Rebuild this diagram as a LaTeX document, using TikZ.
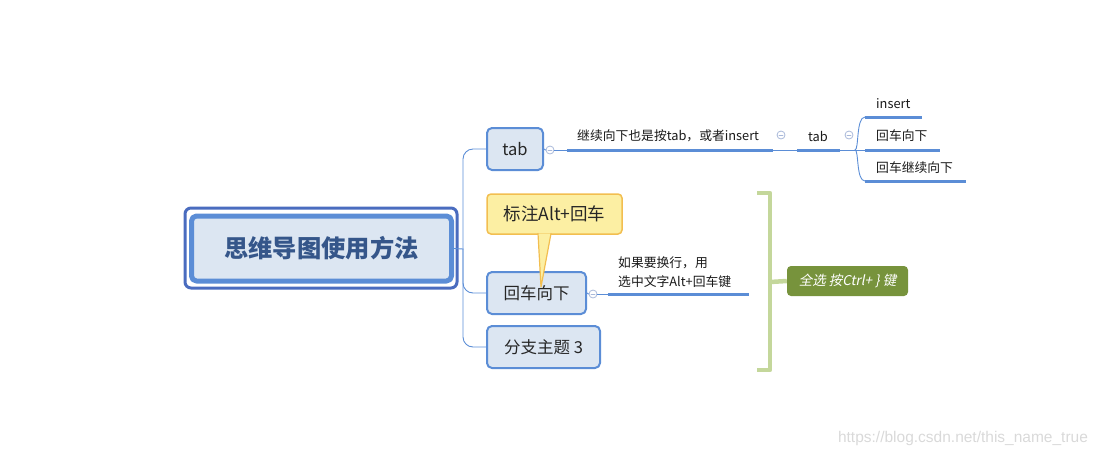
\documentclass[tikz,border=0pt]{standalone}
\usepackage{fontspec}
\setmainfont{Noto Sans CJK SC}
\newfontfamily\slantfont[FakeSlant=0.2]{Noto Sans CJK SC}
\newfontfamily\markfont{Liberation Sans}
\definecolor{topicfill}{HTML}{DCE6F2}
\definecolor{topicline}{HTML}{5B8DD6}
\definecolor{rootline}{HTML}{4A6CBF}
\definecolor{roottext}{HTML}{35568A}
\definecolor{notefill}{HTML}{FCEFA3}
\definecolor{noteline}{HTML}{F2BE50}
\definecolor{bracegreen}{HTML}{C4D79B}
\definecolor{sumfill}{HTML}{77933C}
\definecolor{foldline}{HTML}{A9B9DA}
\begin{document}
\begin{tikzpicture}[x=1pt, y=-1pt, line join=round, line cap=round,
	topic/.style={draw=topicline, line width=2, fill=topicfill, rounded corners=5, inner sep=0, text=black!85, font=\fontsize{16.5}{18}\selectfont, minimum height=42},
	link/.style={topicline, line width=0.9},
	uline/.style={topicline, line width=3, line cap=butt},
	subtext/.style={anchor=west, inner sep=0, text=black!90, font=\fontsize{12.8}{18}\selectfont},
	fold/.style={circle, draw=foldline, line width=0.8, fill=white, minimum size=8, inner sep=0,
		path picture={\draw[foldline, line width=0.8] ([xshift=-2]path picture bounding box.center) -- ([xshift=2]path picture bounding box.center);}}]
	\useasboundingbox (0,0) rectangle (1100,456);
	% central topic
	\draw[rootline, line width=3, rounded corners=6] (185,208) rectangle (457,288);
	\node[draw=topicline, line width=5, fill=topicfill, rounded corners=5, minimum width=260, minimum height=65, inner sep=0,
		text=roottext, font=\fontsize{24.3}{26}\selectfont\bfseries] (root) at (321.5,248.5) {思维导图使用方法};
	\node[topic, minimum width=56] (tab) at (515,149) {tab};
	\node[topic, minimum width=99] (enter) at (536.5,293) {回车向下};
	\node[topic, minimum width=113] (branch3) at (543.5,347) {分支主题 3};
	\coordinate (hub) at (463,249);
	\draw[link] (root.east) -- (hub);
	\draw[link, rounded corners=10] (hub) |- (tab.west);
	\draw[link, rounded corners=10] (hub) |- (enter.west);
	\draw[link, rounded corners=10] (hub) |- (branch3.west);
	% tab branch
	\coordinate (contL) at (567,150);
	\coordinate (contR) at (773,150);
	\coordinate (tabL) at (797,150);
	\coordinate (tabR) at (840,150);
	\coordinate (split) at (855,150);
	\node[fold] (tabfold) at (550,150) {};
	\draw[link] (tab.east) -- (tabfold.west);
	\draw[link] (tabfold.east) -- (contL);
	\draw[uline] (contL) -- (contR);
	\node[subtext] (cont) at (577,136) {继续向下也是按tab，或者insert};
	\node[fold] (contfold) at (781,135) {};
	\draw[link] (contR) -- (tabL);
	\draw[uline] (tabL) -- (tabR);
	\node[subtext, anchor=center] (tab2) at (818,136) {tab};
	\node[fold] (tab2fold) at (849,135) {};
	\draw[link] (tabR) -- (split);
	\coordinate (insL) at (865,117);
	\coordinate (insR) at (922,117);
	\coordinate (downL) at (865,150);
	\coordinate (downR) at (940,150);
	\coordinate (moreL) at (865,181);
	\coordinate (moreR) at (966,181);
	\draw[link] (split) .. controls (859,150) and (856,117) .. (insL);
	\draw[link] (split) -- (downL);
	\draw[link] (split) .. controls (859,150) and (856,181) .. (moreL);
	\draw[uline] (insL) -- (insR);
	\draw[uline] (downL) -- (downR);
	\draw[uline] (moreL) -- (moreR);
	\node[subtext] (ins) at (876,104) {insert};
	\node[subtext] (down) at (876,136) {回车向下};
	\node[subtext] (more) at (876,168) {回车继续向下};
	% callout
	\node[draw=noteline, line width=1.5, fill=notefill, rounded corners=4, minimum width=135, minimum height=40, inner sep=0,
		text=black!85, font=\fontsize{17.5}{18}\selectfont] (note) at (554.5,214) {标注Alt+回车};
	\coordinate (ptrA) at (538,233.5);
	\coordinate (ptrB) at (551,233.5);
	\draw[noteline, line width=1.2, fill=notefill] (ptrA) -- ([xshift=4.5,yshift=-16]enter.north) -- (ptrB);
	\fill[notefill] ([xshift=0.8]ptrA) rectangle ([xshift=-0.8,yshift=-2]ptrB);
	% enter branch
	\coordinate (wrapL) at (608,294);
	\coordinate (wrapR) at (749,294);
	\node[fold] (enterfold) at (593,294) {};
	\draw[link] (enter.east) -- (enterfold.west);
	\draw[link] (enterfold.east) -- (wrapL);
	\draw[uline] (wrapL) -- (wrapR);
	\node[subtext, align=left, font=\fontsize{12.8}{19}\selectfont] (wrap) at (618,272.5) {如果要换行，用\\选中文字Alt+回车键};
	% summary
	\draw[bracegreen, line width=4.5, line cap=butt] (757,193) -- (770,193) -- (770,370) -- (757,370);
	\node[fill=sumfill, rounded corners=4, minimum width=121, minimum height=30, inner sep=0,
		text=white, font=\slantfont\fontsize{13.5}{15}\selectfont] (sum) at (847.5,281) {全选 按Ctrl+ \} 键};
	\draw[bracegreen, line width=4.5, line cap=butt] (770,282) -- (sum.west);
	\node[text=black!15, font=\markfont\fontsize{15.5}{16}\selectfont, inner sep=0] (mark) at (963,438) {https://blog.csdn.net/this\_name\_true};
\end{tikzpicture}
\end{document}
